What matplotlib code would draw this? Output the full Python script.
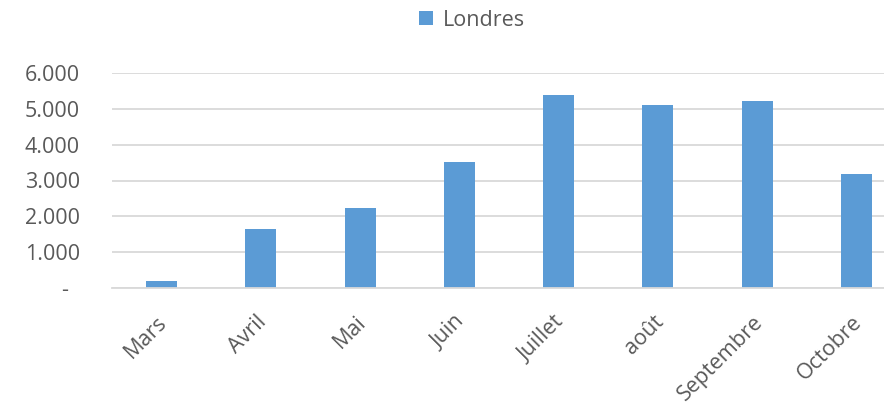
import numpy as np
import matplotlib.pyplot as plt
import matplotlib.transforms as mtransforms
from matplotlib.ticker import FuncFormatter

mois = ['Mars', 'Avril', 'Mai', 'Juin', 'Juillet', 'août', 'Septembre', 'Octobre']
londres = [200, 1660, 2240, 3520, 5400, 5110, 5220, 3170]

plt.rcParams['font.family'] = ['Open Sans', 'DejaVu Sans']
gris = '#595959'

fig = plt.figure(figsize=(8.84, 4.05), dpi=100)
# la zone de tracé déborde à droite (graphique rogné)
ax = fig.add_axes([112/884, 1-288/405, 794/884, 215/405])

x = np.arange(len(mois))
ax.bar(x, londres, width=0.31, color='#5B9BD5', label='Londres', zorder=2)

ax.set_xlim(-0.5, len(mois)-0.5)
ax.set_ylim(0, 6000)
ax.set_yticks(range(0, 7000, 1000))
# format comptable : tiret pour zéro, point comme séparateur de milliers
ax.yaxis.set_major_formatter(FuncFormatter(lambda v, p: '-  ' if v == 0 else f'{int(v):,}'.replace(',', '.')))
ax.grid(axis='y', color='#D9D9D9', linewidth=1.3, zorder=0)
for s in ['top', 'right', 'left']:
    ax.spines[s].set_visible(False)
ax.spines['bottom'].set_color('#D9D9D9')
ax.spines['bottom'].set_linewidth(1.3)
ax.tick_params(axis='both', length=0, colors=gris, labelsize=15.5)
ax.tick_params(axis='y', pad=23)
ax.set_xticks(x)
ax.set_xticklabels(mois, rotation=45, ha='right', rotation_mode='anchor')
ax.tick_params(axis='x', pad=17)
decal = mtransforms.ScaledTranslation(-5/100, 0, fig.dpi_scale_trans)
for lab in ax.get_xticklabels():
    lab.set_transform(lab.get_transform() + decal)

leg = fig.legend(loc='center', bbox_to_anchor=(472/884, 1-20/405), frameon=False,
                 fontsize=15.5, handlelength=0.65, handleheight=0.65, handletextpad=0.5)
for t in leg.get_texts():
    t.set_color(gris)

fig.savefig('out.png', dpi=100)
